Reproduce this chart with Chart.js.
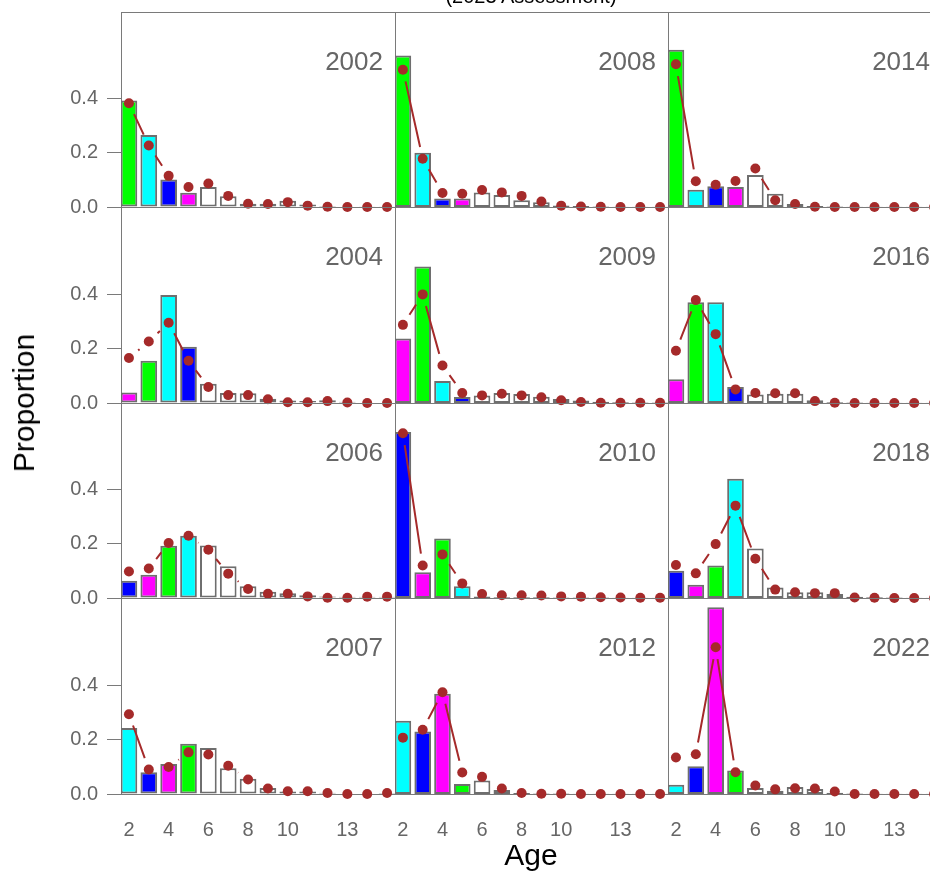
<!DOCTYPE html>
<html>
<head>
<meta charset="utf-8">
<script src="https://cdn.jsdelivr.net/npm/chart.js@4.4.1/dist/chart.umd.min.js"></script>
<style>
  html, body { margin: 0; padding: 0; overflow: hidden; background: #ffffff; }
  #wrap { position: relative; width: 930px; height: 872px; overflow: hidden; background: #ffffff;
          font-family: "Liberation Sans", Arial, sans-serif; }
  #wrap canvas { position: absolute; }
  .txt { position: absolute; white-space: nowrap; }
</style>
</head>
<body>
<div id="wrap"></div>
<script>
// ---------------- DATA ----------------
const ages = [2, 3, 4, 5, 6, 7, 8, 9, 10, 11, 12, 13, 14, 15];
const xTickValues = [2, 4, 6, 8, 10, 13];
const yTickValues = [0, 0.2, 0.4];
const titleText = "(2023 Assessment)";
const xTitle = "Age";
const yTitle = "Proportion";

// panel order: column by column (top to bottom)
const years = [2002, 2004, 2006, 2007, 2008, 2009, 2010, 2012, 2014, 2016, 2018, 2022];

// observed proportions (bars), ages 2..15
const obs2002 = [0.393, 0.266, 0.102, 0.053, 0.074, 0.040, 0.012, 0.012, 0.023, 0.009, 0.004, 0.002, 0.001, 0.001];
const obs2004 = [0.039, 0.155, 0.397, 0.207, 0.071, 0.037, 0.036, 0.016, 0.009, 0.007, 0.010, 0.005, 0.002, 0.002];
const obs2006 = [0.064, 0.086, 0.193, 0.230, 0.194, 0.117, 0.043, 0.023, 0.018, 0.010, 0.006, 0.005, 0.005, 0.005];
const obs2007 = [0.242, 0.080, 0.110, 0.185, 0.169, 0.095, 0.056, 0.022, 0.009, 0.009, 0.005, 0.002, 0.002, 0.004];
const obs2008 = [0.559, 0.200, 0.031, 0.031, 0.054, 0.044, 0.025, 0.018, 0.006, 0.004, 0.002, 0.001, 0.001, 0.001];
const obs2009 = [0.237, 0.501, 0.081, 0.022, 0.028, 0.037, 0.033, 0.023, 0.015, 0.009, 0.005, 0.003, 0.002, 0.002];
const obs2010 = [0.613, 0.095, 0.220, 0.043, 0.006, 0.003, 0.003, 0.003, 0.002, 0.002, 0.002, 0.001, 0.001, 0.001];
const obs2012 = [0.269, 0.230, 0.368, 0.037, 0.050, 0.015, 0.004, 0.002, 0.002, 0.001, 0.001, 0.001, 0.001, 0.001];
const obs2014 = [0.581, 0.064, 0.077, 0.074, 0.118, 0.049, 0.011, 0.004, 0.002, 0.001, 0.001, 0.001, 0.001, 0.001];
const obs2016 = [0.087, 0.370, 0.370, 0.059, 0.031, 0.034, 0.034, 0.010, 0.003, 0.002, 0.001, 0.001, 0.001, 0.001];
const obs2018 = [0.101, 0.049, 0.120, 0.440, 0.183, 0.039, 0.021, 0.021, 0.015, 0.005, 0.003, 0.002, 0.001, 0.001];
const obs2022 = [0.034, 0.102, 0.686, 0.086, 0.022, 0.012, 0.026, 0.018, 0.005, 0.002, 0.001, 0.001, 0.001, 0.001];

// expected proportions (points), ages 2..15
const exp2002 = [0.383, 0.227, 0.115, 0.074, 0.087, 0.041, 0.012, 0.011, 0.018, 0.005, 0.001, 0.000, 0.000, 0.000];
const exp2004 = [0.165, 0.226, 0.295, 0.155, 0.059, 0.029, 0.029, 0.014, 0.003, 0.003, 0.007, 0.002, 0.000, 0.000];
const exp2006 = [0.098, 0.109, 0.203, 0.230, 0.178, 0.090, 0.033, 0.016, 0.016, 0.006, 0.001, 0.001, 0.005, 0.005];
const exp2007 = [0.293, 0.090, 0.099, 0.153, 0.145, 0.104, 0.053, 0.020, 0.010, 0.010, 0.004, 0.000, 0.000, 0.004];
const exp2008 = [0.507, 0.178, 0.052, 0.049, 0.063, 0.054, 0.041, 0.020, 0.005, 0.002, 0.001, 0.000, 0.000, 0.000];
const exp2009 = [0.287, 0.399, 0.138, 0.037, 0.028, 0.034, 0.028, 0.021, 0.010, 0.004, 0.001, 0.001, 0.001, 0.001];
const exp2010 = [0.608, 0.120, 0.161, 0.054, 0.015, 0.010, 0.010, 0.009, 0.006, 0.005, 0.003, 0.002, 0.001, 0.001];
const exp2012 = [0.207, 0.236, 0.374, 0.079, 0.063, 0.020, 0.004, 0.001, 0.001, 0.000, 0.000, 0.000, 0.000, 0.000];
const exp2014 = [0.527, 0.095, 0.082, 0.096, 0.142, 0.025, 0.011, 0.001, 0.000, 0.000, 0.000, 0.000, 0.000, 0.000];
const exp2016 = [0.192, 0.378, 0.253, 0.050, 0.037, 0.036, 0.036, 0.007, 0.001, 0.000, 0.000, 0.000, 0.000, 0.000];
const exp2018 = [0.122, 0.091, 0.199, 0.341, 0.145, 0.031, 0.021, 0.018, 0.018, 0.002, 0.001, 0.000, 0.000, 0.000];
const exp2022 = [0.134, 0.146, 0.539, 0.080, 0.031, 0.017, 0.021, 0.020, 0.009, 0.000, 0.000, 0.000, 0.000, 0.000];

const observed = [obs2002, obs2004, obs2006, obs2007, obs2008, obs2009, obs2010, obs2012, obs2014, obs2016, obs2018, obs2022];
const expected = [exp2002, exp2004, exp2006, exp2007, exp2008, exp2009, exp2010, exp2012, exp2014, exp2016, exp2018, exp2022];

// ---------------- STYLE / LAYOUT ----------------
const FONT = '"Liberation Sans", Arial, sans-serif';
const palette = ['#00FF00', '#00FFFF', '#0000FF', '#FF00FF'];
const POINT_COLOR = '#A52A2A';
const FRAME_COLOR = '#7a7a7a';
const BAR_BORDER = '#6e6e6e';
const TICK_TEXT = '#666666';
const GAP = 12;

const colLeft = [121, 395, 668];
const colW = [274, 273, 274];
const rowTop = [12, 207, 403, 598];
const rowH = [195, 196, 195, 196];
const M = 30;
const LEFT_AXIS = 121;
const BOTTOM_AXIS = 60;

Chart.defaults.font.family = FONT;

const framePlugin = {
  id: 'panelFrame',
  beforeDatasetsDraw(chart) {
    const a = chart.chartArea, ctx = chart.ctx;
    ctx.save();
    ctx.strokeStyle = FRAME_COLOR;
    ctx.lineWidth = 1;
    ctx.strokeRect(Math.round(a.left) + 0.5, Math.round(a.top) + 0.5,
                   Math.round(a.right - a.left), Math.round(a.bottom - a.top));
    ctx.restore();
  }
};

const gapLinePlugin = {
  id: 'gapLines',
  afterDatasetsDraw(chart) {
    const meta = chart.getDatasetMeta(1);
    const pts = meta.data;
    const ctx = chart.ctx;
    ctx.save();
    ctx.strokeStyle = POINT_COLOR;
    ctx.lineWidth = 2;
    ctx.lineCap = 'butt';
    ctx.beginPath();
    for (let i = 0; i < pts.length - 1; i++) {
      const p0 = pts[i], p1 = pts[i + 1];
      const dx = p1.x - p0.x, dy = p1.y - p0.y;
      const d = Math.hypot(dx, dy);
      if (d > 2 * GAP) {
        const ux = dx / d, uy = dy / d;
        ctx.moveTo(p0.x + ux * GAP, p0.y + uy * GAP);
        ctx.lineTo(p1.x - ux * GAP, p1.y - uy * GAP);
      }
    }
    ctx.stroke();
    ctx.restore();
  }
};

const wrap = document.getElementById('wrap');

function addText(text, css) {
  const d = document.createElement('div');
  d.className = 'txt';
  d.textContent = text;
  Object.assign(d.style, css);
  wrap.appendChild(d);
  return d;
}

years.forEach((year, idx) => {
  const c = Math.floor(idx / 4), r = idx % 4;
  const isLeft = c === 0, isBottom = r === 3;
  const ml = isLeft ? LEFT_AXIS : M;
  const mb = isBottom ? BOTTOM_AXIS : M;
  const cv = document.createElement('canvas');
  const w = ml + colW[c] + M, h = M + rowH[r] + mb;
  cv.width = w; cv.height = h;
  cv.style.width = w + 'px'; cv.style.height = h + 'px';
  cv.style.left = (colLeft[c] - ml) + 'px';
  cv.style.top = (rowTop[r] - M) + 'px';
  wrap.appendChild(cv);

  const obs = observed[idx], ex = expected[idx];
  const barColors = ages.map(a => a <= 5 ? palette[(((a - 2 - idx) % 4) + 4) % 4] : '#FFFFFF');

  new Chart(cv.getContext('2d'), {
    type: 'bar',
    data: {
      datasets: [
        {
          type: 'bar',
          data: ages.map((a, i) => ({ x: a, y: obs[i] })),
          backgroundColor: barColors,
          borderColor: BAR_BORDER,
          borderWidth: 2,
          borderSkipped: false,
          barPercentage: 0.84,
          categoryPercentage: 1,
          order: 2
        },
        {
          type: 'line',
          data: ages.map((a, i) => ({ x: a, y: ex[i] })),
          showLine: false,
          pointRadius: 5,
          pointBorderWidth: 0,
          pointBackgroundColor: POINT_COLOR,
          pointBorderColor: POINT_COLOR,
          clip: false,
          order: 1
        }
      ]
    },
    options: {
      responsive: false,
      animation: false,
      devicePixelRatio: 1,
      events: [],
      layout: { padding: { left: isLeft ? 0 : M, top: M, right: M, bottom: isBottom ? 0 : M } },
      plugins: { legend: { display: false }, tooltip: { enabled: false }, title: { display: false } },
      scales: {
        x: {
          type: 'linear',
          min: 1.6, max: 15.4,
          offset: false,
          display: isBottom,
          grid: { display: false, drawTicks: false },
          border: { display: false },
          afterBuildTicks: s => { s.ticks = xTickValues.map(v => ({ value: v })); },
          afterFit: s => { if (isBottom) s.height = BOTTOM_AXIS; },
          ticks: { color: TICK_TEXT, font: { size: 20 }, padding: 24, maxRotation: 0, autoSkip: false,
                   callback: v => String(v) }
        },
        y: {
          type: 'linear',
          min: 0, max: 0.72,
          display: isLeft,
          grid: { display: true, drawOnChartArea: false, drawTicks: true, tickLength: 14,
                  tickColor: FRAME_COLOR, tickWidth: 1 },
          border: { display: false },
          afterBuildTicks: s => { s.ticks = yTickValues.map(v => ({ value: v })); },
          afterFit: s => { if (isLeft) s.width = LEFT_AXIS; },
          ticks: { color: TICK_TEXT, font: { size: 20 }, padding: 9, autoSkip: false,
                   callback: v => Number(v).toFixed(1) }
        }
      }
    },
    plugins: [framePlugin, gapLinePlugin]
  });

  // year label inside the panel, top right
  addText(String(year), {
    left: colLeft[c] + 'px', width: (colW[c] - 12) + 'px', textAlign: 'right',
    top: (rowTop[r] + 36) + 'px', fontSize: '26px', lineHeight: '26px', color: '#666666'
  });
});

// main title (mostly cut off at the top)
addText(titleText, {
  left: '531px', top: '-14px', transform: 'translateX(-50%)',
  fontSize: '20px', lineHeight: '20px', color: '#000000'
});
// axis titles
addText(xTitle, {
  left: '531px', top: '855px', transform: 'translate(-50%, -50%)',
  fontSize: '30px', lineHeight: '34px', color: '#000000'
});
addText(yTitle, {
  left: '24px', top: '403px', transform: 'translate(-50%, -50%) rotate(-90deg)',
  fontSize: '30px', lineHeight: '34px', color: '#000000'
});
</script>
</body>
</html>
